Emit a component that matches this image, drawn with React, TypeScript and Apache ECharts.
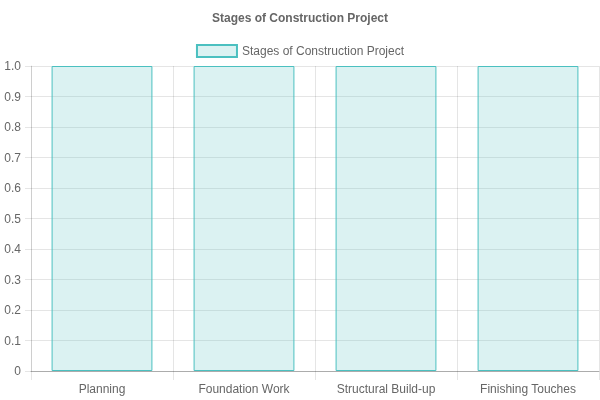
import React, { useEffect, useRef } from 'react';
import * as echarts from 'echarts';

const categories = ['Planning', 'Foundation Work', 'Structural Build-up', 'Finishing Touches'];
const stageValues = [1, 1, 1, 1];
const seriesName = 'Stages of Construction Project';

const FONT = '"Liberation Sans", Arial, Helvetica, sans-serif';
const GRID = 'rgba(0,0,0,0.1)';

const App: React.FC = () => {
  const chartRef = useRef<HTMLDivElement>(null);

  useEffect(() => {
    if (!chartRef.current) return;
    const chart = echarts.init(chartRef.current, undefined, { renderer: 'svg' });

    chart.setOption({
      animation: false,
      textStyle: { fontFamily: FONT },
      title: {
        text: seriesName,
        left: 'center',
        top: 7,
        textStyle: { fontSize: 12, fontWeight: 'bold', color: '#666', fontFamily: FONT },
      },
      legend: {
        top: 39,
        left: 'center',
        itemWidth: 40,
        itemHeight: 12,
        itemGap: 6,
        icon: 'rect',
        data: [seriesName],
        textStyle: { fontSize: 12, color: '#666', fontFamily: FONT },
      },
      grid: { left: 31, right: 1, top: 66, bottom: 29, containLabel: false },
      xAxis: {
        type: 'category',
        data: categories,
        axisLine: { show: true, lineStyle: { color: 'rgba(0,0,0,0.25)' } },
        axisTick: { show: true, length: 9, lineStyle: { color: GRID } },
        axisLabel: { color: '#666', fontSize: 12, margin: 12, fontFamily: FONT },
        splitLine: { show: true, lineStyle: { color: GRID } },
      },
      yAxis: {
        type: 'value',
        min: 0,
        max: 1,
        interval: 0.1,
        axisLine: { show: true, lineStyle: { color: GRID } },
        axisTick: { show: true, length: 6, lineStyle: { color: GRID } },
        axisLabel: {
          color: '#666',
          fontSize: 12,
          margin: 10,
          fontFamily: FONT,
          formatter: (v: number) => (v === 0 ? '0' : v.toFixed(1)),
        },
        splitLine: { show: true, lineStyle: { color: GRID } },
      },
      series: [
        {
          name: seriesName,
          type: 'bar',
          data: stageValues,
          barWidth: '71%',
          itemStyle: {
            color: 'rgba(75,192,192,0.2)',
            borderColor: 'rgb(75,192,192)',
            borderWidth: 1,
          },
        },
      ],
    });

    return () => {
      chart.dispose();
    };
  }, []);

  return (
    <div
      ref={chartRef}
      style={{ position: 'fixed', left: 0, top: 0, width: 600, height: 400 }}
    />
  );
};

export default App;
